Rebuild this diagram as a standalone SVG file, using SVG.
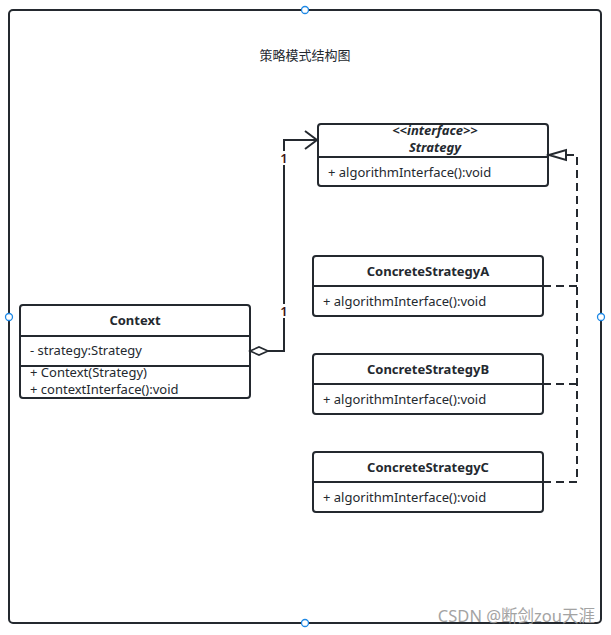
<svg xmlns="http://www.w3.org/2000/svg" width="611" height="635" viewBox="0 0 611 635">
<style>
.box{fill:#fff;stroke:#24292f;stroke-width:2}
.ln{stroke:#24292f;stroke-width:2;fill:none}
.t{font-family:"Noto Sans","Noto Sans CJK SC",sans-serif;font-size:13px;fill:#24292f}
.b{font-weight:bold;text-anchor:middle}
.m{font-family:"Noto Sans",sans-serif;font-size:13px;font-weight:600;fill:#3d1515;text-anchor:middle}
.dash{stroke:#24292f;stroke-width:2;fill:none;stroke-dasharray:8,5}
.h{fill:#fff;stroke:#1e88e5;stroke-width:1.3}
</style>
<rect width="611" height="635" fill="#fff"/>
<g id="frame">
<rect x="9" y="10" width="592" height="613" rx="4" class="ln"/>
<circle cx="305" cy="10" r="3.5" class="h"/>
<circle cx="9" cy="317" r="3.5" class="h"/>
<circle cx="601" cy="317" r="3.5" class="h"/>
<circle cx="305" cy="623" r="3.5" class="h"/>
<text x="305" y="60" class="t" text-anchor="middle" font-size="12.5">策略模式结构图</text>
</g>
<g id="strategy">
<rect x="318" y="124" width="230" height="62" rx="3" class="box"/>
<line x1="318" y1="157" x2="548" y2="157" class="ln"/>
<text x="435" y="135" class="t b" font-style="italic" font-size="12">&lt;&lt;interface&gt;&gt;</text>
<text x="435" y="152" class="t b" font-style="italic">Strategy</text>
<text x="328" y="177" class="t">+ algorithmInterface():void</text>
</g>
<g id="context">
<rect x="20" y="305" width="230" height="93" rx="3" class="box"/>
<line x1="20" y1="336" x2="250" y2="336" class="ln"/>
<line x1="20" y1="366" x2="250" y2="366" class="ln"/>
<text x="135" y="325" class="t b">Context</text>
<text x="30" y="355" class="t">- strategy:Strategy</text>
<text x="30" y="377" class="t" font-size="12">+ Context(Strategy)</text>
<text x="30" y="394" class="t" font-size="12">+ contextInterface():void</text>
</g>
<g id="concreteA">
<rect x="313" y="256" width="230" height="60" rx="3" class="box"/>
<line x1="313" y1="286" x2="543" y2="286" class="ln"/>
<text x="428" y="276" class="t b">ConcreteStrategyA</text>
<text x="323" y="306" class="t">+ algorithmInterface():void</text>
</g>
<g id="concreteB">
<rect x="313" y="354" width="230" height="60" rx="3" class="box"/>
<line x1="313" y1="384" x2="543" y2="384" class="ln"/>
<text x="428" y="374" class="t b">ConcreteStrategyB</text>
<text x="323" y="404" class="t">+ algorithmInterface():void</text>
</g>
<g id="concreteC">
<rect x="313" y="452" width="230" height="60" rx="3" class="box"/>
<line x1="313" y1="482" x2="543" y2="482" class="ln"/>
<text x="428" y="472" class="t b">ConcreteStrategyC</text>
<text x="323" y="502" class="t">+ algorithmInterface():void</text>
</g>
<g id="connectors">
<polyline points="268,351 284,351 284,140 317,140" class="ln"/>
<polyline points="305,131 317,140 305,149" class="ln"/>
<polygon points="250,351 259,347 268,351 259,355" fill="#fff" stroke="#24292f" stroke-width="1.6"/>
<rect x="279" y="151" width="10" height="14" fill="#fff"/>
<text x="284" y="163" class="m">1</text>
<rect x="279" y="304" width="10" height="14" fill="#fff"/>
<text x="284" y="316" class="m">1</text>
<polyline points="543,286 577,286" class="dash"/>
<polyline points="543,384 577,384" class="dash"/>
<polyline points="543,482 577,482 577,155 566,155" class="dash"/>
<polygon points="549,155 566,150 566,160" fill="#fff" stroke="#24292f" stroke-width="2"/>
</g>
<text x="595" y="622" font-family="'Noto Sans','Noto Sans CJK SC',sans-serif" font-size="16.5" fill="#9a9a9a" text-anchor="end" opacity="0.9">CSDN @断剑zou天涯</text>
</svg>
